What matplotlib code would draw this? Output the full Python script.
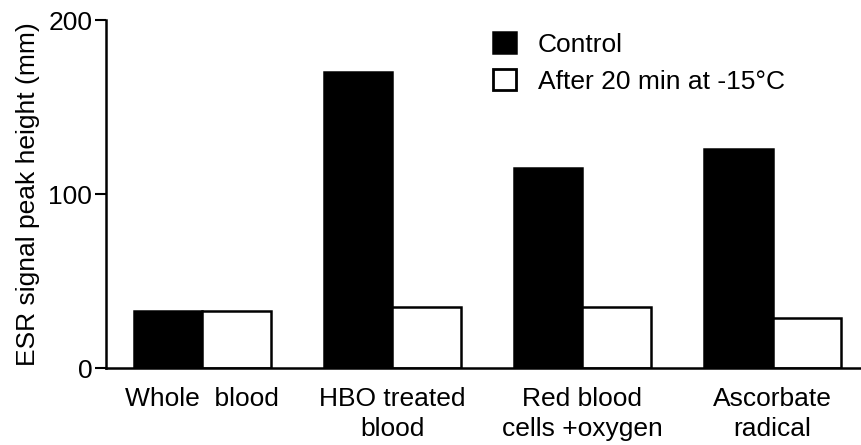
import numpy as np
import matplotlib.pyplot as plt
from matplotlib.patches import Patch

plt.rcParams['font.family'] = ['Liberation Sans', 'DejaVu Sans']

groups = ['Whole  blood', 'HBO treated\nblood', 'Red blood\ncells +oxygen', 'Ascorbate\nradical']
control = [33, 170, 115, 126]
after_cold = [33, 35, 35, 29]

ind = np.arange(len(groups))
width = 0.36

fig = plt.figure(figsize=(8.62, 4.45), dpi=100)
ax = fig.add_axes([0.123, 0.173, 0.877, 0.782])

ax.bar(ind - width / 2, control, width, color='black', edgecolor='black', linewidth=1.8)
ax.bar(ind + width / 2, after_cold, width, color='white', edgecolor='black', linewidth=1.8)

ax.set_xlim(-0.505, 3.47)
ax.set_ylim(0, 200)
ax.set_yticks([0, 100, 200])
ax.set_xticks(ind)
ax.set_xticklabels(groups, fontsize=19, linespacing=1.3)
ax.tick_params(axis='x', length=0, pad=14)
ax.tick_params(axis='y', labelsize=19, width=1.5, length=8, pad=2)

for side in ('top', 'right'):
    ax.spines[side].set_visible(False)
ax.spines['left'].set_linewidth(1.8)
ax.spines['bottom'].set_linewidth(1.8)

ax.set_ylabel('ESR signal peak height (mm)', fontsize=19, labelpad=6)

handles = [Patch(facecolor='black', edgecolor='black', linewidth=1.8),
           Patch(facecolor='white', edgecolor='black', linewidth=2)]
ax.legend(handles, ['Control', 'After 20 min at -15°C'], loc='upper left',
          bbox_to_anchor=(0.48, 1.035), frameon=False, fontsize=19,
          handlelength=0.9, handleheight=0.9, handletextpad=0.8, labelspacing=0.45)

fig.savefig('out.png', dpi=100)
